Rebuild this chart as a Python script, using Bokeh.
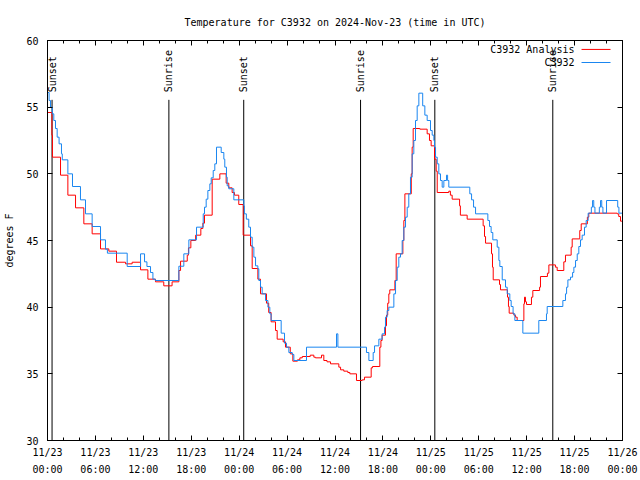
import math
from bokeh.plotting import figure
from bokeh.models import Range1d, FixedTicker, LinearAxis
from bokeh.core.properties import value
from bokeh.embed import file_html
from bokeh.resources import INLINE

# ---------------- data (hours since 2024-11-23 00:00 UTC, deg F) ----------------
obs_hours = [0.0, 0.2, 0.38, 0.6, 0.79, 1.0, 1.21, 1.45, 1.75, 1.85, 2.55, 3.13, 4.13, 4.76, 5.59,
             6.64, 7.26, 7.5, 9.98, 11.65, 12.15, 12.45, 12.9, 13.2, 13.5, 16.45, 17.07, 17.7, 18.66,
             19.5, 19.66, 19.87, 20.08, 20.33, 20.5, 20.75, 20.95, 21.16, 21.75, 22.08, 22.2, 22.41,
             22.5, 22.7, 23.33, 24.58, 24.65, 24.9, 25.2, 25.42, 25.63, 25.84, 26.05, 26.34, 26.46,
             26.67, 26.88, 27.3, 27.6, 27.84, 28.0, 29.26, 29.68, 29.93, 30.22, 30.64, 30.85, 32.43,
             36.19, 36.36, 39.94, 40.24, 40.78, 40.95, 41.49, 41.9, 42.2, 42.32, 42.53, 42.74, 43.37,
             43.58, 43.79, 43.99, 44.2, 44.41, 44.62, 44.83, 45.04, 45.24, 45.45, 45.66, 45.87, 46.08,
             46.29, 46.5, 46.98, 47.25, 47.54, 47.96, 48.17, 48.38, 48.46, 48.59, 48.8, 49.0, 49.21,
             49.42, 49.63, 49.96, 50.1, 50.25, 52.88, 53.1, 53.35, 53.6, 55.14, 55.35, 55.55, 55.76,
             56.31, 56.52, 56.64, 56.94, 57.35, 57.56, 57.89, 58.06, 58.3, 58.52, 59.52, 61.52, 62.48,
             62.57, 64.53, 64.86, 65.0, 65.16, 65.49, 65.75, 65.91, 66.12, 66.33, 66.53, 66.74, 66.95,
             67.24, 67.45, 67.7, 68.1, 68.25, 68.4, 68.55, 69.1, 69.25, 69.4, 69.55, 70.0, 71.4, 71.55,
             72.0]
obs_temps = [56.1, 55.5, 55.0, 54.5, 54.0, 53.4, 52.75, 52.25, 51.5, 51.05, 50.0, 49.05, 48.05, 47.0, 46.05,
             45.05, 44.35, 44.05, 43.05, 44.0, 43.4, 43.05, 42.6, 42.1, 42.0, 43.07, 44.0, 45.05, 46.0,
             47.0, 47.5, 48.1, 48.75, 49.25, 49.7, 50.25, 50.75, 52.0, 51.6, 51.1, 50.5, 49.75,
             49.1, 48.88, 48.05, 47.6, 47.0, 46.6, 46.0, 45.25, 44.5, 43.75, 43.1, 42.88, 42.0,
             41.5, 41.0, 40.5, 40.0, 39.5, 39.0, 38.05, 37.3, 37.0, 36.6, 36.45, 36.0, 37.0,
             38.0, 37.0, 36.6, 36.0, 36.6, 37.1, 37.6, 38.0, 38.5, 39.25, 39.75, 40.0, 41.0,
             42.0, 43.0, 43.75, 44.0, 45.0, 46.0, 46.75, 47.5, 48.5, 49.75, 51.5, 52.5, 54.0,
             55.1, 56.05, 55.1, 54.4, 54.0, 53.25, 52.9, 52.5, 52.0, 51.25, 50.75, 50.0, 49.5,
             49.0, 49.5, 49.9, 49.5, 49.0, 48.5, 48.05, 47.5, 47.0, 46.5, 46.05, 45.6, 45.05,
             44.5, 43.5, 43.05, 42.05, 41.5, 41.0, 40.5, 40.05, 39.5, 39.0, 38.05, 39.0, 39.5,
             40.05, 40.5, 41.0, 41.5, 42.05, 42.25, 42.6, 43.0, 43.5, 44.0, 44.55, 45.05, 45.4,
             46.0, 46.5, 47.05, 47.5, 48.0, 47.5, 47.05, 47.5, 48.0, 47.5, 47.05, 48.0, 47.5, 47.05,
             47.05]

ana_hours = [0.0, 0.55, 0.62, 1.63, 2.55, 3.51, 4.55, 5.59, 6.64, 7.68, 8.64, 9.77, 10.6, 11.65, 12.57,
             13.52, 14.56, 15.6, 16.45, 16.66, 17.5, 17.65, 17.95, 18.55, 19.2, 19.45, 19.66, 20.62,
             21.58, 22.37, 22.7, 23.12, 23.41, 23.95, 24.5, 25.42, 25.63, 26.34, 26.67, 27.42, 27.7,
             28.0, 28.55, 28.76, 29.51, 29.8, 30.4, 30.72, 31.3, 31.6, 31.9, 32.9, 33.35, 33.55, 34.31,
             34.6, 35.0, 35.44, 36.48, 36.7, 37.1, 37.6, 37.86, 38.69, 39.4, 39.69, 40.53, 40.7, 41.61,
             41.75, 41.9, 42.32, 42.45, 42.6, 42.74, 42.86, 43.5, 43.66, 44.5, 44.62, 44.75, 45.55,
             45.66, 45.79, 46.62, 47.54, 47.83, 48.04, 48.46, 48.67, 48.8, 50.25, 50.45, 50.67, 51.6,
             51.7, 52.55, 54.55, 54.72, 54.85, 55.6, 55.72, 55.81, 56.6, 56.72, 57.6, 57.72, 57.81,
             58.4, 58.6, 58.81, 59.65, 59.73, 59.85, 59.98, 60.6, 60.77, 61.62, 61.73, 62.6, 62.78,
             63.6, 63.82, 64.65, 64.86, 65.57, 65.7, 66.65, 66.83, 67.6, 67.78, 71.34, 71.53, 71.75,
             72.0]
ana_temps = [54.6, 52.9, 51.25, 49.9, 48.4, 47.45, 46.25, 45.5, 44.37, 44.2, 43.37, 43.25, 43.37, 42.8, 42.1,
             41.9, 41.6, 41.9, 42.75, 43.45, 43.9, 44.45, 45.0, 45.4, 45.9, 46.3, 46.9, 49.6,
             50.0, 49.3, 48.95, 48.6, 48.4, 47.7, 45.4, 44.6, 42.9, 42.1, 41.0, 40.3, 39.6,
             38.9, 38.25, 37.6, 37.4, 37.0, 36.5, 35.95, 36.05, 36.2, 36.3, 36.4, 36.25, 36.2, 36.4,
             36.0, 35.9, 35.75, 35.5, 35.3, 35.2, 35.1, 35.0, 34.5, 34.55, 34.75, 35.45, 35.55, 37.0,
             37.5, 37.9, 38.6, 39.4, 40.3, 41.0, 41.3, 42.0, 44.0, 45.0, 46.5, 48.5, 50.0,
             52.0, 53.4, 53.35, 53.0, 52.5, 52.1, 51.1, 50.2, 48.6, 48.7, 48.4, 48.1, 47.6,
             46.9, 46.6, 46.1, 45.3, 44.8, 44.0, 43.0, 42.05, 41.7, 41.3, 40.75, 40.05, 39.55,
             39.4, 39.25, 39.0, 40.25, 40.75, 40.4, 40.2, 40.75, 41.25, 41.5, 42.3, 42.55, 43.17,
             43.0, 42.75, 43.4, 43.9, 44.5, 45.12, 45.75, 46.25, 46.75, 47.05, 47.0, 46.8, 46.45,
             46.45]

sun_hours = [0.57, 15.2, 24.57, 39.2, 48.5, 63.27]
sun_labels = ["Sunset", "Sunrise", "Sunset", "Sunrise", "Sunset", "Sunrise"]

xtick_hours = [0, 6, 12, 18, 24, 30, 36, 42, 48, 54, 60, 66, 72]
xtick_labels = ["11/23\n00:00", "11/23\n06:00", "11/23\n12:00", "11/23\n18:00",
                "11/24\n00:00", "11/24\n06:00", "11/24\n12:00", "11/24\n18:00",
                "11/25\n00:00", "11/25\n06:00", "11/25\n12:00", "11/25\n18:00",
                "11/26\n00:00"]
xminor_hours = list(range(0, 73, 2))
ytick_values = [30, 35, 40, 45, 50, 55, 60]

series_names = ["C3932 Analysis", "C3932"]

# ---------------- styling ----------------
FONT = "DejaVu Sans Mono"
FS = "10px"
RED = "#ff0000"
BLUE = "#1a86f0"

p = figure(width=640, height=480, x_range=Range1d(0, 72), y_range=Range1d(30, 60),
           output_backend="svg", toolbar_location=None,
           min_border_left=47, min_border_right=18, min_border_top=40, min_border_bottom=40)
p.title.text = "Temperature for C3932 on 2024-Nov-23 (time in UTC)"
p.title.text_font = FONT
p.title.text_font_size = FS
p.title.text_font_style = "normal"
p.title.text_color = "black"
p.title.align = "center"
p.title.standoff = 25
p.grid.visible = False
p.outline_line_color = "black"
p.outline_line_width = 1
p.outline_line_alpha = 1
p.background_fill_color = "white"
p.border_fill_color = "white"

def style_axis(ax):
    ax.axis_line_color = "black"
    ax.major_tick_line_color = "black"
    ax.minor_tick_line_color = "black"
    ax.major_tick_in = 5
    ax.major_tick_out = 0
    ax.minor_tick_in = 3
    ax.minor_tick_out = 0
    ax.major_label_text_font = FONT
    ax.major_label_text_font_size = FS
    ax.major_label_text_color = "black"

xa = p.xaxis[0]
xa.ticker = FixedTicker(ticks=xtick_hours, minor_ticks=xminor_hours)
xa.major_label_overrides = {h: s for h, s in zip(xtick_hours, xtick_labels)}
style_axis(xa)
xa.major_label_standoff = 6
xa.major_label_text_line_height = 1.6

ya = p.yaxis[0]
ya.ticker = FixedTicker(ticks=ytick_values, minor_ticks=[])
style_axis(ya)
ya.major_label_standoff = 9
ya.axis_label = "degrees F"
ya.axis_label_text_font = FONT
ya.axis_label_text_font_size = FS
ya.axis_label_text_font_style = "normal"
ya.axis_label_text_color = "black"
ya.axis_label_standoff = 8

# mirrored tick marks on the top and right borders (no labels)
top = LinearAxis(ticker=FixedTicker(ticks=xtick_hours, minor_ticks=xminor_hours))
style_axis(top)
top.major_label_overrides = {h: "" for h in xtick_hours}
top.major_label_standoff = 0
p.add_layout(top, "above")
right = LinearAxis(ticker=FixedTicker(ticks=ytick_values, minor_ticks=[]))
style_axis(right)
right.major_label_overrides = {v: "" for v in ytick_values}
right.major_label_standoff = 0
p.add_layout(right, "right")

# sunrise / sunset markers
p.segment(x0=sun_hours, y0=[30] * len(sun_hours), x1=sun_hours, y1=[55.55] * len(sun_hours),
          line_color="black", line_width=1)
p.text(x=sun_hours, y=[56.12] * len(sun_hours), text=sun_labels, angle=math.pi / 2,
       text_align="left", text_baseline="middle", text_font=value(FONT),
       text_font_size=FS, text_color="black")

# series
p.step(x=ana_hours, y=ana_temps, mode="after", line_color=RED, line_width=1)
p.step(x=obs_hours, y=obs_temps, mode="after", line_color=BLUE, line_width=1)

# legend (top right, text then line sample)
leg_text_x = 65.99
leg_x0, leg_x1 = 66.87, 70.5
leg_y = [59.33, 58.35]
p.text(x=[leg_text_x] * 2, y=leg_y, text=series_names, text_align="right",
       text_baseline="middle", text_font=value(FONT), text_font_size=FS, text_color="black")
p.segment(x0=[leg_x0] * 2, y0=leg_y, x1=[leg_x1] * 2, y1=leg_y,
          line_color=[RED, BLUE], line_width=1)

open("out.html", "w").write(file_html(p, INLINE))
